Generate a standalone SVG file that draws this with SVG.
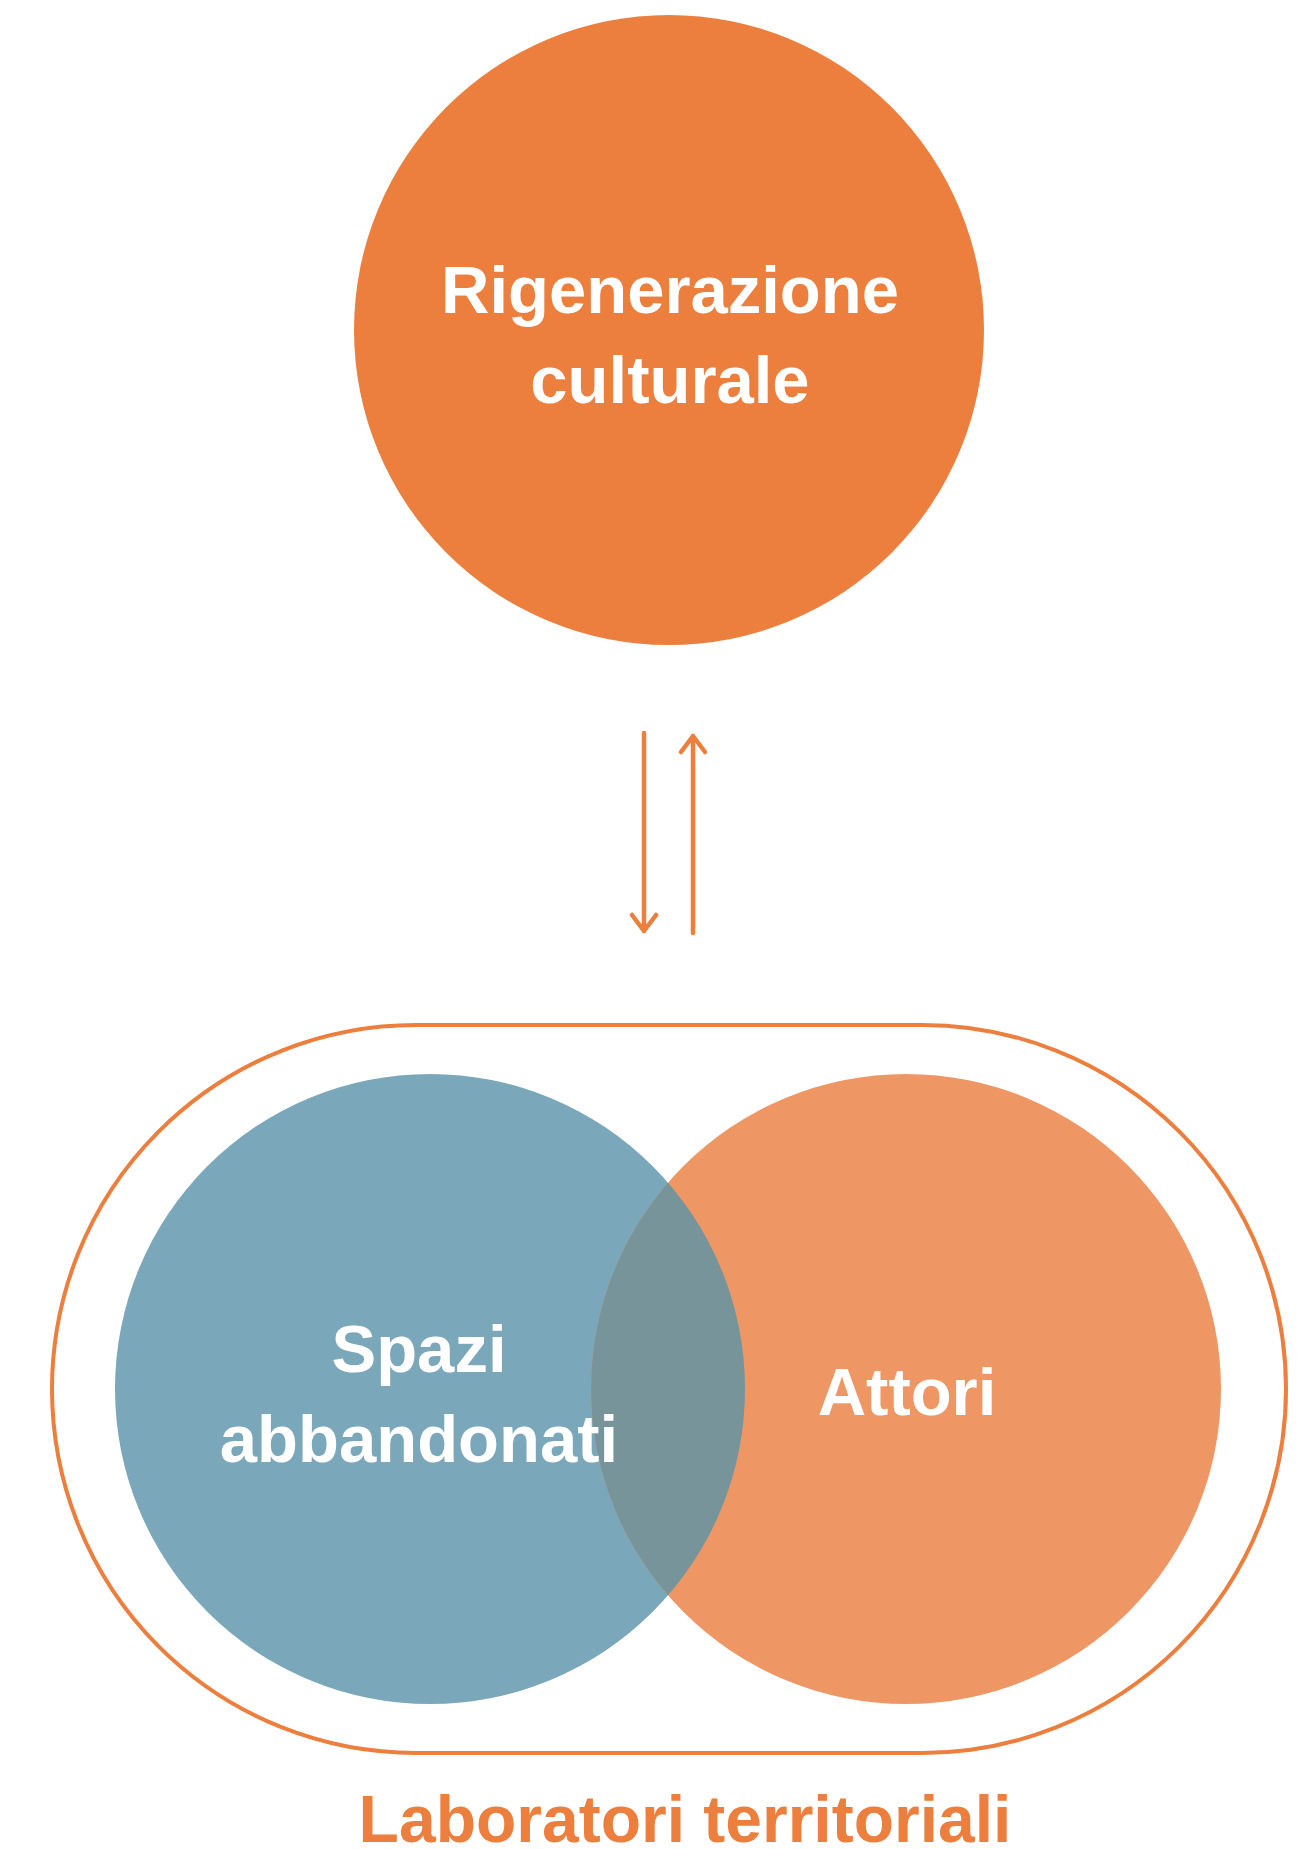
<svg xmlns="http://www.w3.org/2000/svg" width="1301" height="1849" viewBox="0 0 1301 1849">
<style>
.lbl{font-family:"Liberation Sans",Arial,sans-serif;font-weight:bold;font-size:67px;fill:#ffffff;text-anchor:middle}
.ttl{font-family:"Liberation Sans",Arial,sans-serif;font-weight:bold;font-size:66px;fill:#EC7F3E;text-anchor:middle}
.arr{fill:none;stroke:#EC7F3E;stroke-width:4.5;stroke-linecap:round;stroke-linejoin:round}
</style>
<defs>
<clipPath id="blueClip"><circle cx="430" cy="1389" r="315"/></clipPath>
</defs>
<rect width="1301" height="1849" fill="#ffffff"/>
<g id="rigenerazione">
<circle cx="669" cy="330" r="315" fill="#EC7F3E"/>
<text class="lbl" x="670" y="313">Rigenerazione</text>
<text class="lbl" x="670" y="403">culturale</text>
</g>
<g id="connectors">
<path class="arr" d="M644 733 V931 M632 915 L644 931 L656 915"/>
<path class="arr" d="M693 933 V736 M681 752 L693 736 L705 752"/>
</g>
<g id="laboratori">
<rect x="52" y="1025" width="1234" height="728" rx="364" ry="364" fill="none" stroke="#EC7F3E" stroke-width="4"/>
<text class="ttl" x="685" y="1842">Laboratori territoriali</text>
</g>
<g id="spazi">
<circle cx="430" cy="1389" r="315" fill="#7AA8BA"/>
</g>
<g id="attori">
<circle cx="906" cy="1389" r="315" fill="#EE9765"/>
<circle cx="906" cy="1389" r="315" fill="#77949B" clip-path="url(#blueClip)"/>
<text class="lbl" x="907" y="1415">Attori</text>
</g>
<g id="spazi-label">
<text class="lbl" x="419" y="1372">Spazi</text>
<text class="lbl" x="419" y="1462">abbandonati</text>
</g>
</svg>
